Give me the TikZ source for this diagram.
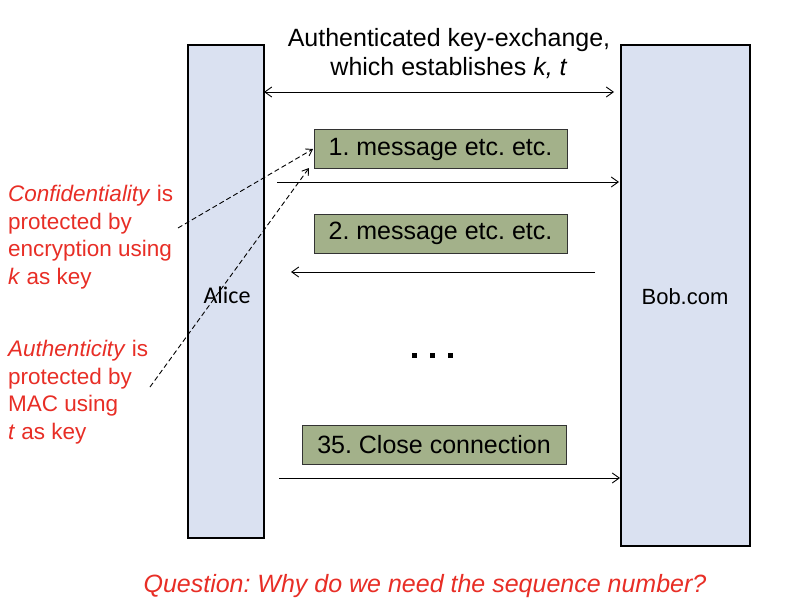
\documentclass[tikz,border=0pt]{standalone}
\usepackage{fontspec}
\setmainfont{Liberation Sans}
\newfontfamily\calib{Carlito}
\usetikzlibrary{arrows.meta}
\definecolor{lifeblue}{RGB}{218,225,241}
\definecolor{msggreen}{RGB}{163,177,138}
\definecolor{redtxt}{RGB}{232,46,38}
\frenchspacing
\begin{document}
\begin{tikzpicture}[x=1pt,y=-1pt,
  lifeline/.style={draw=black,line width=1.8pt,fill=lifeblue},
  msgbox/.style={draw=black!80,line width=0.8pt,fill=msggreen,minimum height=39pt,inner sep=0pt,font=\fontsize{25}{29}\selectfont},
  flow/.style={line width=0.9pt,-{Straight Barb[length=7pt,width=10pt]}},
  note/.style={text=redtxt,align=left,anchor=north west,inner sep=0pt,font=\fontsize{22.5}{27.5}\selectfont},
  pointer/.style={line width=0.9pt,dash pattern=on 5pt off 3pt,-{Straight Barb[length=6pt,width=8pt]}}]
\useasboundingbox (0,0) rectangle (790,610);
\fill[white] (0,0) rectangle (790,610);
% lifelines
\draw[lifeline] (188,45) rectangle (264,538);
\draw[lifeline] (621,45) rectangle (750,546);
\node[font=\calib\fontsize{24}{28}\selectfont] (alice) at (227,295) {Alice};
\node[font=\fontsize{22}{26}\selectfont] (bob) at (685,297) {Bob.com};
% title
\node[align=center,font=\fontsize{25}{29}\selectfont] (title) at (449,54) {Authenticated key-exchange,\\which establishes \textit{k, t}};
\coordinate (kx1) at (264,92); \coordinate (kx2) at (614,92);
\draw[line width=0.9pt,{Straight Barb[length=7pt,width=10pt]}-{Straight Barb[length=7pt,width=10pt]}] (kx1) -- (kx2);
% messages
\node[msgbox,minimum width=253pt] (m1) at (440.5,149) {1. message etc. etc.};
\node[msgbox,minimum width=253pt] (m2) at (440.5,233.5) {2. message etc. etc.};
\node[msgbox,minimum width=264pt] (m35) at (434,444.5) {35. Close connection};
\coordinate (a1s) at (277,182); \coordinate (a1e) at (619,182);
\coordinate (a2s) at (595,272); \coordinate (a2e) at (291,272);
\coordinate (a3s) at (279,478); \coordinate (a3e) at (620,478);
\draw[flow] (a1s) -- (a1e);
\draw[flow] (a2s) -- (a2e);
\draw[flow] (a3s) -- (a3e);
% dots
\foreach \x in {414,432,450} \fill (\x-2.5,352.5) rectangle (\x+2.5,357.5);
% notes
\node[note] (conf) at (8,185) {\textit{Confidentiality} is\\protected by\\encryption using\\\textit{k} as key};
\node[note] (auth) at (8,340) {\textit{Authenticity} is\\protected by\\MAC using\\\textit{t} as key};
\coordinate (c1) at (178,228);
\coordinate (c2) at (150,387);
\coordinate (t1) at (313,149);
\coordinate (t2) at (309,168);
\draw[pointer] (c1) -- (t1);
\draw[pointer] (c2) -- (t2);
% question
\node[text=redtxt,font=\itshape\fontsize{25}{29}\selectfont] (q) at (425,586) {Question: Why do we need the sequence number?};
\end{tikzpicture}
\end{document}
